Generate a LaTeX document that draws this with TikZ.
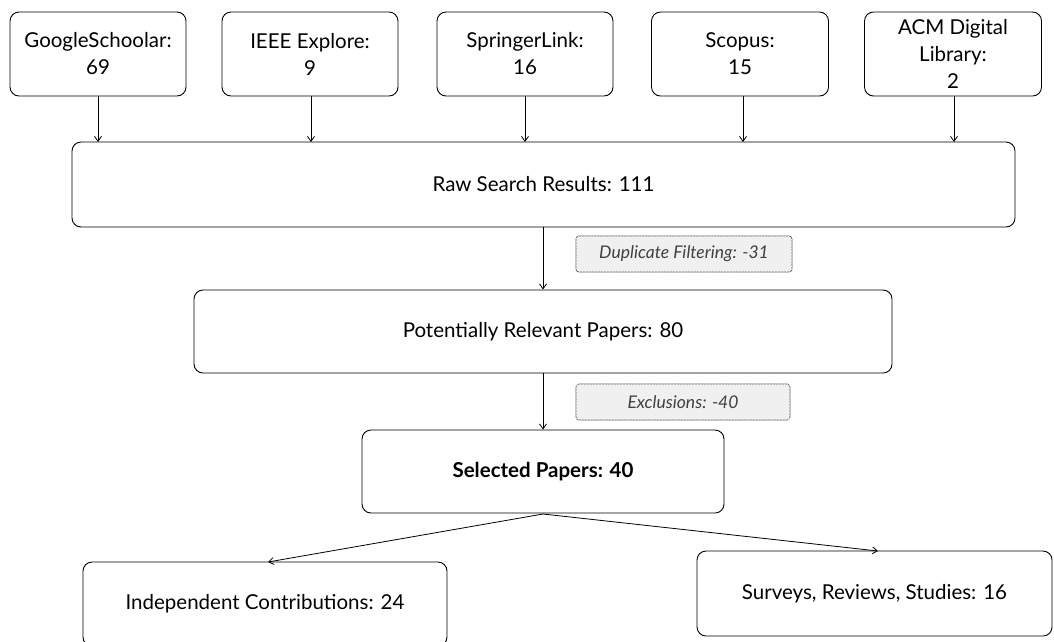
\documentclass[tikz,border=0pt]{standalone}
\usepackage{fontspec}
\setmainfont{Lato}
\usetikzlibrary{arrows.meta,patterns}
\begin{document}
\begin{tikzpicture}[x=1pt,y=-1pt,
  box/.style={draw=black, line width=0.9pt, rounded corners=9pt, align=center,
    font=\fontsize{20.5}{27}\selectfont, inner sep=0pt},
  note/.style={draw=black!70, line width=0.7pt, rounded corners=3pt, fill=black!4, inner sep=0pt},
  notetext/.style={font=\fontsize{17.5}{20}\selectfont\itshape, text=black!75},
  arr/.style={-{Straight Barb[length=5pt,width=7pt]}, line width=0.8pt, black}
]
\useasboundingbox (0,0) rectangle (1054,641);

% notes (background first)
\node[note, minimum width=216pt, minimum height=36pt] (dup) at (684,254) {};
\node[note, minimum width=214pt, minimum height=36pt] (exc) at (683,402) {};
\path[pattern=north east lines, pattern color=black!9, rounded corners=3pt]
  (dup.north west) rectangle (dup.south east)
  (exc.north west) rectangle (exc.south east);
\node[notetext] (dupt) at (dup.center) {Duplicate Filtering: -31};
\node[notetext] (exct) at (exc.center) {Exclusions: -40};

% sources
\node[box, minimum width=176pt, minimum height=84pt] (gs)  at (98,54)  {GoogleSchoolar:\\69};
\node[box, minimum width=176pt, minimum height=84pt] (ie)  at (310,54) {IEEE Explore:\\9};
\node[box, minimum width=176pt, minimum height=84pt] (sp)  at (525,54) {SpringerLink:\\16};
\node[box, minimum width=177pt, minimum height=84pt] (sc)  at (740,54) {Scopus:\\15};
\node[box, minimum width=177pt, minimum height=84pt] (acm) at (953,54) {ACM Digital\\Library:\\2};

% main chain
\node[box, minimum width=943pt, minimum height=85pt] (raw) at (543.5,184.5) {Raw Search Results: 111};
\node[box, minimum width=698pt, minimum height=83pt] (pot) at (543,331.5) {Potentially Relevant Papers: 80};
\node[box, minimum width=362pt, minimum height=83pt, font=\fontsize{20.5}{27}\selectfont\bfseries] (sel) at (543,471.5) {Selected Papers: 40};
\node[box, minimum width=364pt, minimum height=84pt] (ind) at (265,604) {Independent Contributions: 24};
\node[box, minimum width=355pt, minimum height=85pt] (sur) at (874.5,593.5) {Surveys, Reviews, Studies: 16};

% connectors
\foreach \n/\xx in {gs/98, ie/311, sp/525, sc/743, acm/954}{
  \draw[arr] (\n.south -| \xx,0) -- (\xx,142);
}
\coordinate (rawb) at (543,227);
\draw[arr] (rawb) -- (rawb |- pot.north);
\coordinate (potb) at (543,373);
\draw[arr] (potb) -- (potb |- sel.north);
\coordinate (selb) at (543,514);
\coordinate (indt) at (268,562);
\coordinate (surt) at (878,551);
\draw[arr] (selb) -- (indt);
\draw[arr] (selb) -- (surt);
\end{tikzpicture}
\end{document}
